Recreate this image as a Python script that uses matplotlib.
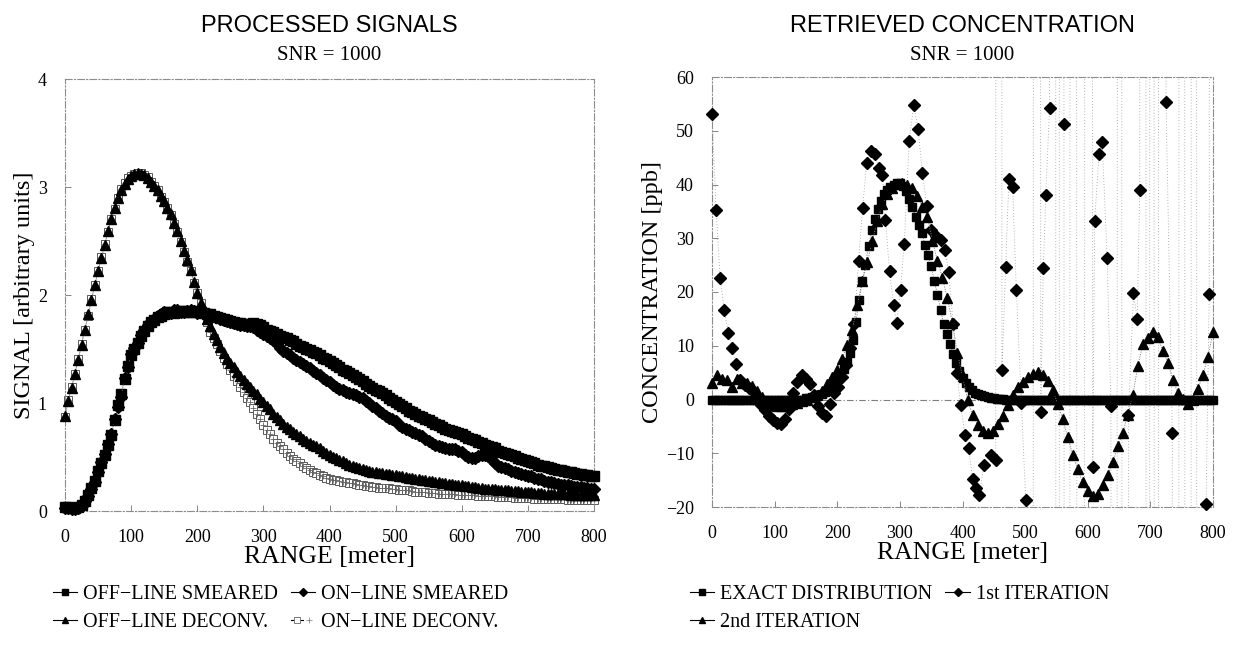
import matplotlib
matplotlib.use('Agg')
import matplotlib.pyplot as plt
from matplotlib.lines import Line2D
from matplotlib.legend_handler import HandlerTuple
import numpy as np

plt.rcParams['font.family'] = ['Liberation Serif', 'DejaVu Serif']
plt.rcParams['axes.unicode_minus'] = True

# ---------------- left panel data (range step 5 m) ----------------
range_sig = list(range(0, 801, 5))

off_smeared = [0.04, 0.04, 0.03, 0.03, 0.04, 0.06, 0.09, 0.15, 0.21, 0.28,
               0.37, 0.44, 0.52, 0.61, 0.70, 0.84, 0.98, 1.08, 1.22, 1.34,
               1.44, 1.50, 1.56, 1.62, 1.67, 1.71, 1.75, 1.77, 1.80, 1.81,
               1.82, 1.84, 1.84, 1.83, 1.84, 1.85, 1.85, 1.84, 1.84, 1.85,
               1.84, 1.84, 1.83, 1.82, 1.82, 1.81, 1.80, 1.79, 1.78, 1.77,
               1.76, 1.75, 1.74, 1.74, 1.73, 1.72, 1.73, 1.74, 1.73, 1.72,
               1.70, 1.68, 1.67, 1.66, 1.64, 1.62, 1.61, 1.60, 1.58, 1.57,
               1.55, 1.53, 1.52, 1.50, 1.49, 1.47, 1.46, 1.44, 1.42, 1.41,
               1.39, 1.37, 1.35, 1.33, 1.31, 1.30, 1.28, 1.26, 1.24, 1.22,
               1.20, 1.18, 1.16, 1.14, 1.12, 1.11, 1.09, 1.07, 1.05, 1.03,
               1.01, 0.99, 0.97, 0.95, 0.93, 0.92, 0.90, 0.88, 0.87, 0.85,
               0.84, 0.82, 0.81, 0.80, 0.78, 0.76, 0.75, 0.74, 0.73, 0.72,
               0.71, 0.69, 0.68, 0.67, 0.66, 0.64, 0.63, 0.61, 0.60, 0.59,
               0.58, 0.56, 0.55, 0.54, 0.53, 0.52, 0.51, 0.49, 0.48, 0.47,
               0.46, 0.45, 0.44, 0.43, 0.42, 0.42, 0.41, 0.40, 0.39, 0.38,
               0.38, 0.37, 0.36, 0.36, 0.35, 0.34, 0.34, 0.33, 0.33, 0.32,
               0.32]

on_smeared = [0.03, 0.03, 0.02, 0.02, 0.03, 0.05, 0.09, 0.14, 0.20, 0.27,
              0.36, 0.45, 0.53, 0.62, 0.71, 0.85, 0.96, 1.06, 1.23, 1.33,
              1.45, 1.51, 1.56, 1.63, 1.68, 1.72, 1.76, 1.78, 1.81, 1.82,
              1.84, 1.83, 1.83, 1.86, 1.86, 1.84, 1.84, 1.85, 1.86, 1.85,
              1.83, 1.84, 1.84, 1.82, 1.81, 1.81, 1.80, 1.78, 1.77, 1.76,
              1.75, 1.74, 1.73, 1.72, 1.72, 1.71, 1.71, 1.70, 1.68, 1.66,
              1.64, 1.62, 1.60, 1.58, 1.55, 1.51, 1.48, 1.46, 1.44, 1.42,
              1.40, 1.38, 1.36, 1.34, 1.32, 1.30, 1.28, 1.26, 1.23, 1.21,
              1.19, 1.17, 1.15, 1.13, 1.12, 1.10, 1.09, 1.08, 1.07, 1.06,
              1.05, 1.02, 1.00, 0.97, 0.95, 0.93, 0.91, 0.88, 0.86, 0.85,
              0.83, 0.80, 0.78, 0.76, 0.75, 0.73, 0.72, 0.70, 0.69, 0.67,
              0.65, 0.63, 0.61, 0.60, 0.59, 0.58, 0.57, 0.57, 0.57, 0.56,
              0.55, 0.52, 0.50, 0.49, 0.49, 0.51, 0.52, 0.52, 0.51, 0.47,
              0.44, 0.42, 0.41, 0.40, 0.39, 0.37, 0.36, 0.35, 0.34, 0.33,
              0.32, 0.32, 0.31, 0.30, 0.30, 0.28, 0.27, 0.27, 0.26, 0.25,
              0.24, 0.24, 0.24, 0.23, 0.22, 0.22, 0.22, 0.21, 0.21, 0.20,
              0.20]

off_deconv = [0.88, 1.02, 1.14, 1.27, 1.40, 1.54, 1.68, 1.82, 1.95, 2.09,
              2.22, 2.34, 2.46, 2.59, 2.70, 2.81, 2.90, 2.97, 3.03, 3.07,
              3.10, 3.12, 3.13, 3.12, 3.11, 3.08, 3.05, 3.01, 2.97, 2.92,
              2.87, 2.81, 2.75, 2.67, 2.59, 2.50, 2.41, 2.32, 2.23, 2.12,
              2.02, 1.93, 1.85, 1.78, 1.71, 1.64, 1.58, 1.52, 1.46, 1.41,
              1.37, 1.33, 1.29, 1.25, 1.21, 1.18, 1.15, 1.11, 1.08, 1.04,
              1.01, 0.97, 0.94, 0.90, 0.87, 0.84, 0.81, 0.78, 0.76, 0.73,
              0.71, 0.69, 0.67, 0.65, 0.63, 0.61, 0.60, 0.58, 0.56, 0.54,
              0.52, 0.50, 0.49, 0.47, 0.46, 0.44, 0.43, 0.42, 0.41, 0.40,
              0.39, 0.38, 0.37, 0.365, 0.36, 0.355, 0.35, 0.345, 0.34, 0.335,
              0.33, 0.325, 0.32, 0.315, 0.31, 0.305, 0.30, 0.295, 0.29, 0.285,
              0.28, 0.275, 0.27, 0.265, 0.26, 0.255, 0.25, 0.248, 0.245, 0.242,
              0.24, 0.235, 0.23, 0.225, 0.22, 0.215, 0.21, 0.207, 0.205, 0.202,
              0.20, 0.197, 0.195, 0.192, 0.19, 0.187, 0.185, 0.182, 0.18, 0.177,
              0.175, 0.172, 0.17, 0.167, 0.165, 0.162, 0.16, 0.16, 0.16, 0.157,
              0.155, 0.155, 0.155, 0.152, 0.15, 0.15, 0.15, 0.15, 0.15, 0.15,
              0.15]

on_deconv = [0.87, 1.03, 1.15, 1.27, 1.41, 1.55, 1.68, 1.81, 1.96, 2.09,
             2.22, 2.35, 2.47, 2.58, 2.70, 2.80, 2.90, 2.98, 3.04, 3.08,
             3.10, 3.12, 3.13, 3.13, 3.11, 3.09, 3.05, 3.01, 2.97, 2.91,
             2.86, 2.81, 2.74, 2.66, 2.58, 2.49, 2.40, 2.31, 2.22, 2.11,
             2.02, 1.93, 1.84, 1.75, 1.66, 1.60, 1.55, 1.48, 1.42, 1.36,
             1.31, 1.25, 1.20, 1.15, 1.10, 1.05, 1.01, 0.95, 0.90, 0.85,
             0.80, 0.75, 0.71, 0.67, 0.63, 0.60, 0.57, 0.54, 0.51, 0.48,
             0.46, 0.44, 0.42, 0.40, 0.38, 0.36, 0.35, 0.33, 0.32, 0.31,
             0.30, 0.29, 0.285, 0.277, 0.27, 0.265, 0.26, 0.255, 0.25, 0.245,
             0.24, 0.235, 0.23, 0.225, 0.22, 0.217, 0.215, 0.212, 0.21, 0.205,
             0.20, 0.197, 0.195, 0.192, 0.19, 0.185, 0.18, 0.177, 0.175, 0.172,
             0.17, 0.167, 0.165, 0.162, 0.16, 0.16, 0.16, 0.157, 0.155, 0.152,
             0.15, 0.15, 0.15, 0.147, 0.145, 0.142, 0.14, 0.14, 0.14, 0.137,
             0.135, 0.132, 0.13, 0.13, 0.13, 0.127, 0.125, 0.122, 0.12, 0.12,
             0.12, 0.117, 0.115, 0.115, 0.115, 0.112, 0.11, 0.11, 0.11, 0.11,
             0.11, 0.107, 0.105, 0.105, 0.105, 0.102, 0.10, 0.10, 0.10, 0.10,
             0.10]

# ---------------- right panel data ----------------
range_exact = list(range(0, 801, 5))
exact = [0.0, 0.0, 0.0, 0.0, 0.0, 0.0, 0.0, 0.0, 0.0, 0.0,
         0.0, 0.0, 0.0, 0.0, 0.0, 0.0, 0.0, 0.0, 0.0, 0.0,
         0.0, 0.0, 0.0, 0.0, 0.0, 0.0, 0.0, 0.0, 0.0, 0.0,
         0.2, 0.3, 0.4, 0.6, 0.8, 1.1, 1.4, 1.8, 2.3, 2.9,
         3.6, 4.5, 5.6, 7.0, 8.7, 11.0, 14.5, 18.5, 22.0, 25.0,
         28.5, 31.5, 33.5, 35.5, 37.0, 38.2, 39.0, 39.6, 40.0, 40.3,
         40.3, 39.8, 38.8, 37.3, 35.8, 34.0, 32.5, 31.0, 28.8, 26.8,
         24.8, 22.0, 19.5, 16.7, 14.0, 12.2, 10.3, 8.5, 6.8, 5.3,
         4.0, 3.0, 2.3, 1.7, 1.3, 1.0, 0.8, 0.6, 0.5, 0.35,
         0.25, 0.15, 0.1, 0.05, 0.0, 0.0, 0.0, 0.0, 0.0, 0.0,
         0.0, 0.0, 0.0, 0.0, 0.0, 0.0, 0.0, 0.0, 0.0, 0.0,
         0.0, 0.0, 0.0, 0.0, 0.0, 0.0, 0.0, 0.0, 0.0, 0.0,
         0.0, 0.0, 0.0, 0.0, 0.0, 0.0, 0.0, 0.0, 0.0, 0.0,
         0.0, 0.0, 0.0, 0.0, 0.0, 0.0, 0.0, 0.0, 0.0, 0.0,
         0.0, 0.0, 0.0, 0.0, 0.0, 0.0, 0.0, 0.0, 0.0, 0.0,
         0.0, 0.0, 0.0, 0.0, 0.0, 0.0, 0.0, 0.0, 0.0, 0.0,
         0.0]

# 1st iteration: values of +/-2000 lie far outside the axis range
range_iter1 = [0, 6.5, 13, 19.5, 26, 32.5, 39, 45.5, 52, 58.5,
               65, 71.5, 78, 84.5, 91, 97.5, 104, 110.5, 117, 123.5,
               130, 136.5, 143, 149.5, 156, 162.5, 169, 175.5, 182, 188.5,
               195, 201.5, 208, 214.5, 221, 227.5, 234, 240.5, 247, 253.5,
               260, 266.5, 272, 277, 283.5, 290, 295, 301, 307, 315,
               322, 329, 336, 343, 350, 357, 365, 372, 378, 385,
               391, 397, 404, 410, 416, 421, 427, 434, 445, 453,
               458, 463, 469, 474, 480, 486, 494, 501, 510, 516,
               525, 529, 533, 539, 546, 552, 557, 562, 568, 575,
               590, 600, 608, 611, 618, 623, 631, 637, 643, 651,
               658, 665, 673, 679, 683, 690, 696, 702, 710, 716,
               725, 735, 741, 750, 760, 770, 778, 789, 794, 800]
iter1 = [53.2, 35.3, 22.6, 16.7, 12.4, 9.5, 6.6, 3.6, 2.7, 2.2,
         1.6, 0.4, -1.0, -2.0, -3.0, -3.9, -4.4, -4.6, -3.6, -1.8,
         1.2, 3.2, 4.6, 3.9, 2.8, 0.8, -1.2, -2.6, -3.0, -0.8,
         1.2, 2.4, 4.2, 6.5, 9.5, 14.0, 25.7, 35.6, 44.0, 46.3,
         45.6, 43.0, 41.8, 33.4, 23.9, 17.6, 14.2, 20.4, 29.0, 48.1,
         54.8, 50.4, 42.1, 36.0, 31.5, 30.5, 29.7, 27.8, 23.7, 14.0,
         5.0, -1.0, -6.6, -9.1, -14.7, -16.5, -17.8, -12.2, -10.4, -11.3,
         2000, 5.5, 24.7, 41.1, 39.6, 20.3, -0.6, -18.7, -2000, 2000,
         -2.4, 24.4, 38.0, 54.2, 2000, -2000, 2000, 51.3, -2000, 2000,
         -2000, 2000, -12.6, 33.2, 45.7, 48.0, 26.4, -1.2, -2000, 2000,
         -2000, -2.9, 19.8, 15.0, 39.0, 2000, -2000, 2000, -2000, 2000,
         55.4, -6.2, -2000, 2000, -2000, 2000, -2000, -19.5, 19.7, 2000]

range_iter2 = list(range(0, 801, 8))
iter2 = [3.0, 4.5, 3.8, 3.6, 2.3, 3.9, 3.1, 3.0, 2.6, 1.6,
         0.5, -0.6, -1.0, -1.2, -1.3, -1.2, -0.9, -0.6, -0.3, 0.0,
         0.4, 0.9, 1.6, 2.8, 4.2, 5.5, 7.6, 10.2, 13.0, 17.5,
         22.0, 25.5, 29.5, 33.2, 36.3, 38.2, 39.3, 40.1, 40.3, 40.0,
         39.3, 37.8, 35.9, 34.0, 29.5, 25.8, 22.6, 18.8, 14.2, 8.6,
         4.3, 0.0, -2.9, -4.7, -5.8, -6.2, -5.8, -4.6, -3.0, -1.0,
         0.8, 2.3, 3.3, 4.1, 4.7, 5.2, 4.5, 3.5, 1.8, -0.8,
         -3.6, -7.0, -10.3, -13.0, -15.4, -17.0, -18.0, -17.6, -15.9, -14.0,
         -11.7, -8.7, -6.2, -2.8, 0.8, 6.3, 10.3, 11.4, 12.6, 11.6,
         9.0, 6.8, 3.7, 1.2, 0.1, -0.8, 0.0, 2.0, 4.6, 8.0,
         12.6]

sig_ticks = [0, 1, 2, 3, 4]
conc_ticks = [-20, -10, 0, 10, 20, 30, 40, 50, 60]
range_ticks = [0, 100, 200, 300, 400, 500, 600, 700, 800]

# ---------------- figure ----------------
W, H = 1236, 645
fig = plt.figure(figsize=(W / 100, H / 100), dpi=100)

def fx(px):
    return px / W

def fy(py):
    return 1 - py / H

axL = fig.add_axes([fx(65), fy(511), fx(594) - fx(65), fy(79) - fy(511)])
axR = fig.add_axes([fx(712), fy(507), fx(1213) - fx(712), fy(77) - fy(507)])

LINE = dict(color='0.5', lw=0.6, ls=(0, (1.5, 1.5)))

def style(ax):
    for s in ax.spines.values():
        s.set_color('0.55')
        s.set_linewidth(0.8)
        s.set_linestyle((0, (6, 2, 1, 2)))
    ax.tick_params(direction='in', length=4, width=0.6, color='0.45',
                   pad=13, labelsize=13, labelcolor='black')
    ax.set_xlim(0, 800)
    ax.set_xticks(range_ticks)

# left panel
ax = axL
ax.plot(range_sig, on_deconv, marker='s', ms=5.8, mfc='white', mec='0.35', mew=0.7,
        clip_on=False, zorder=2, **LINE)
ax.plot(range_sig, on_deconv, ls='none', marker='+', ms=5, mec='0.4', mew=0.6,
        clip_on=False, zorder=2)
ax.plot(range_sig, off_deconv, marker='^', ms=7, mfc='black', mec='black',
        clip_on=False, zorder=3, **LINE)
ax.plot(range_sig, off_smeared, marker='s', ms=6.5, mfc='black', mec='black',
        clip_on=False, zorder=3, **LINE)
ax.plot(range_sig, on_smeared, marker='D', ms=6, mfc='black', mec='black',
        clip_on=False, zorder=3, **LINE)
style(ax)
ax.set_ylim(0, 4)
ax.set_yticks(sig_ticks)
ax.set_ylabel('SIGNAL [arbitrary units]', fontsize=17.5, labelpad=2)
ax.set_xlabel('RANGE [meter]', fontsize=18.5, labelpad=0)

# right panel
ax = axR
ax.axhline(0, color='0.5', lw=0.8, ls=(0, (6, 2, 1, 2)), zorder=0)
ax.plot(range_exact, exact, marker='s', ms=6.2, mfc='black', mec='black',
        clip_on=False, zorder=3, **LINE)
ax.plot(range_iter1, iter1, ls=(0, (1.0, 2.5)), color='0.6', lw=0.6, zorder=1)
i1x = np.array(range_iter1)
i1y = np.array(iter1)
inside = (i1y >= -20) & (i1y <= 60)
ax.plot(i1x[inside], i1y[inside], ls='none', marker='D', ms=6, mfc='black',
        mec='black', clip_on=False, zorder=3)
ax.plot(range_iter2, iter2, marker='^', ms=7.5, mfc='black', mec='black',
        clip_on=False, zorder=4, **LINE)
style(ax)
ax.set_ylim(-20, 60)
ax.set_yticks(conc_ticks)
ax.set_ylabel('CONCENTRATION [ppb]', fontsize=17.5, labelpad=2)
ax.set_xlabel('RANGE [meter]', fontsize=18.5, labelpad=0)

# titles
for a, t in [(axL, 'PROCESSED SIGNALS'), (axR, 'RETRIEVED CONCENTRATION')]:
    b = a.get_position()
    cx = (b.x0 + b.x1) / 2
    fig.text(cx, fy(26), t, ha='center', va='center', fontsize=17,
             family=['Liberation Sans', 'DejaVu Sans'])
    fig.text(cx, fy(56), 'SNR = 1000', ha='center', va='center', fontsize=15)

# legends
def h(marker, ms, **kw):
    return Line2D([], [], color='black', lw=0.8, marker=marker, ms=ms,
                  mfc=kw.get('mfc', 'black'), mec=kw.get('mec', 'black'),
                  mew=kw.get('mew', 1.0))

h_open = (h('s', 4.5, mfc='white', mec='0.4', mew=0.6),
          Line2D([], [], ls='none', marker='+', ms=4, mec='0.45', mew=0.5))
handlesL = [h('s', 4.5), h('^', 5), h('D', 4.5), h_open]
labelsL = ['OFF\u2212LINE SMEARED', 'OFF\u2212LINE DECONV.',
           'ON\u2212LINE SMEARED', 'ON\u2212LINE DECONV.']
LEG = dict(loc='upper left', bbox_transform=fig.transFigure, ncol=2,
           frameon=False, fontsize=14.5, handlelength=1.2, handletextpad=0.3,
           columnspacing=0.65, labelspacing=0.45, borderpad=0, borderaxespad=0)
fig.legend(handlesL, labelsL, bbox_to_anchor=(fx(53), fy(585)),
           handler_map={tuple: HandlerTuple(ndivide=None, pad=0)}, **LEG)

handlesR = [h('s', 4.5), h('^', 5), h('D', 4.5)]
labelsR = ['EXACT DISTRIBUTION', '2nd ITERATION', '1st ITERATION']
fig.legend(handlesR, labelsR, bbox_to_anchor=(fx(690), fy(585)), **LEG)

fig.savefig('out.png', dpi=100)
